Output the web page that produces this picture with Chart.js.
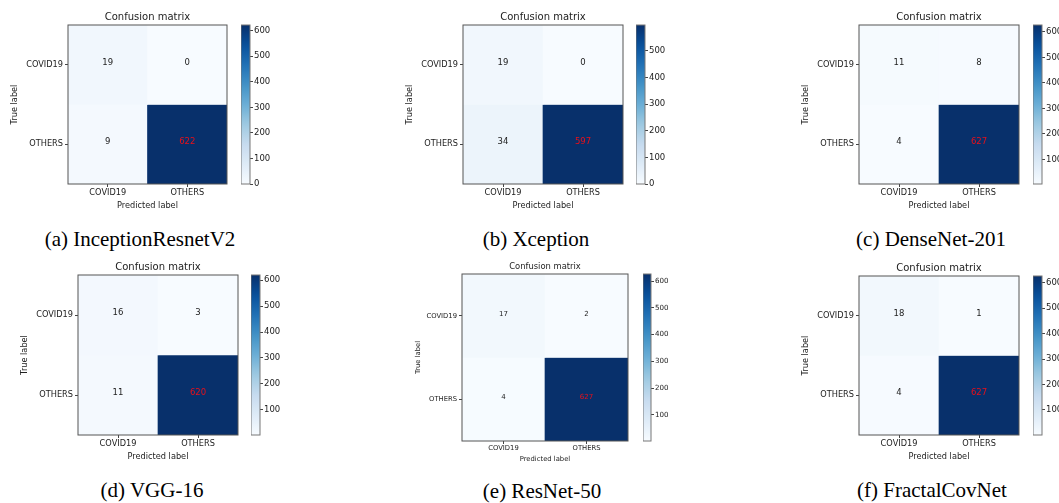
<!DOCTYPE html>
<html>
<head>
<meta charset="utf-8">
<script src="https://cdn.jsdelivr.net/npm/chart.js@4.4.0/dist/chart.umd.min.js"></script>
<style>
  html, body { margin: 0; padding: 0; background: #fff; width: 1059px; height: 503px; overflow: hidden; position: relative; }
  canvas { position: absolute; }
  .caption { position: absolute; font-family: 'Liberation Serif', 'Times New Roman', serif; font-size: 21px; color: #000; white-space: nowrap; transform: translate(-50%, -50%); }
</style>
</head>
<body>
<script>
// class names (both axes)
var classLabels = ['COVID19', 'OTHERS'];

// confusion matrices: rows = true label, cols = predicted label
var cmInceptionResnet = [[19, 0], [9, 622]];
var cmXception = [[19, 0], [34, 597]];
var cmDenseNet = [[11, 8], [4, 627]];
var cmVGG16 = [[16, 3], [11, 620]];
var cmResNet50 = [[17, 2], [4, 627]];
var cmFractalCovNet = [[18, 1], [4, 627]];

var captions = ['(a) InceptionResnetV2', '(b) Xception', '(c) DenseNet-201',
                '(d) VGG-16', '(e) ResNet-50', '(f) FractalCovNet'];
var matrices = [cmInceptionResnet, cmXception, cmDenseNet, cmVGG16, cmResNet50, cmFractalCovNet];

// colorbar tick spacing
var colorbarStep = 100;

// where each panel sits on the page (box = matrix area, bar = colorbar)
var panelLayout = [
  { box: [68, 25, 159, 159], bar: [241, 25, 8.5, 159], cap: [140, 239], fs: 8.2, ts: 10, cs: 8.5, L: 60, B: 28 },
  { box: [463, 25, 160, 159], bar: [636, 25, 8.5, 159], cap: [536, 239], fs: 8.2, ts: 10, cs: 8.5, L: 60, B: 28 },
  { box: [859, 25, 160, 159], bar: [1033, 25, 8.5, 159], cap: [931, 239], fs: 8.2, ts: 10, cs: 8.5, L: 60, B: 28 },
  { box: [78, 275, 160, 160], bar: [251, 275, 8.5, 160], cap: [152, 490], fs: 8.2, ts: 10, cs: 8.5, L: 60, B: 28 },
  { box: [462, 274, 166, 167], bar: [643, 274, 8, 167], cap: [542, 491], fs: 6.8, ts: 8.4, cs: 7, L: 50, B: 24 },
  { box: [859, 276, 160, 159], bar: [1033, 276, 8.5, 159], cap: [932, 490], fs: 8.2, ts: 10, cs: 8.5, L: 60, B: 28 }
];

var FONT = 'DejaVu Sans';
var TEXT = '#222';

// matplotlib "Blues"
var bluesStops = [[247,251,255],[222,235,247],[198,219,239],[158,202,225],[107,174,214],
                  [66,146,198],[33,113,181],[8,81,156],[8,48,107]];
function blues(t) {
  t = Math.max(0, Math.min(1, t));
  var p = t * (bluesStops.length - 1);
  var i = Math.min(Math.floor(p), bluesStops.length - 2);
  var f = p - i;
  var a = bluesStops[i], b = bluesStops[i + 1];
  return 'rgb(' + [0,1,2].map(function (k) { return Math.round(a[k] + (b[k] - a[k]) * f); }).join(',') + ')';
}

function addCanvas(x, y, w, h) {
  var c = document.createElement('canvas');
  c.width = Math.round(w); c.height = Math.round(h);
  c.style.left = Math.round(x) + 'px'; c.style.top = Math.round(y) + 'px';
  c.style.width = Math.round(w) + 'px'; c.style.height = Math.round(h) + 'px';
  document.body.appendChild(c);
  return c;
}

// frame around the plotting area
var frame = {
  id: 'frame',
  afterDraw: function (chart, args, opts) {
    var a = chart.chartArea, ctx = chart.ctx;
    ctx.save();
    ctx.strokeStyle = opts.color || '#555';
    ctx.lineWidth = 1;
    ctx.strokeRect(a.left, a.top, a.right - a.left, a.bottom - a.top);
    ctx.restore();
  }
};

// numbers inside the cells
var cellText = {
  id: 'cellText',
  afterDatasetsDraw: function (chart, args, opts) {
    if (!opts.cm) return;
    var ctx = chart.ctx;
    ctx.save();
    ctx.font = opts.size + 'px "' + FONT + '"';
    ctx.textAlign = 'center';
    ctx.textBaseline = 'middle';
    chart.data.datasets.forEach(function (ds, r) {
      chart.getDatasetMeta(r).data.forEach(function (bar, c) {
        var v = opts.cm[r][c];
        var p = bar.getProps(['x', 'y', 'base'], true);
        ctx.fillStyle = v > opts.thresh ? '#e8101a' : TEXT;
        ctx.fillText(String(v), p.x, (p.y + p.base) / 2 - 2);
      });
    });
    ctx.restore();
  }
};

function drawPanel(cm, caption, lay) {
  var flat = cm[0].concat(cm[1]);
  var vmin = Math.min.apply(null, flat), vmax = Math.max.apply(null, flat);
  var box = lay.box, fs = lay.fs;
  var T = lay.ts > 9 ? 21 : 15, R = 2;
  var tickFont = { family: FONT, size: fs, lineHeight: 1.2 };

  var cv = addCanvas(box[0] - lay.L, box[1] - T, box[2] + lay.L + R, box[3] + T + lay.B);
  new Chart(cv, {
    type: 'bar',
    data: {
      labels: classLabels,
      datasets: cm.map(function (row, r) {
        return {
          data: row.map(function () { return [r - 0.5, r + 0.5]; }),
          backgroundColor: row.map(function (v) { return blues((v - vmin) / (vmax - vmin)); }),
          borderWidth: 0,
          grouped: false,
          barPercentage: 1,
          categoryPercentage: 1
        };
      })
    },
    options: {
      responsive: false,
      animation: false,
      layout: { padding: { right: R } },
      plugins: {
        legend: { display: false },
        tooltip: { enabled: false },
        title: {
          display: true, text: 'Confusion matrix', color: TEXT, fullSize: false,
          font: { family: FONT, size: lay.ts, weight: 'normal', lineHeight: (lay.ts > 9 ? 14 : 12) + 'px' },
          padding: lay.ts > 9 ? { top: 6, bottom: 1 } : { top: 2, bottom: 1 }
        },
        frame: { color: '#555' },
        cellText: { cm: cm, thresh: vmax / 2, size: lay.cs }
      },
      scales: {
        x: {
          type: 'category',
          offset: true,
          afterFit: function (s) { s.height = lay.B; },
          grid: { offset: false, drawOnChartArea: false, tickLength: 3, color: '#444' },
          border: { display: false },
          ticks: { font: tickFont, color: TEXT, padding: fs > 8 ? 1 : 0, maxRotation: 0 },
          title: { display: true, text: 'Predicted label', color: TEXT, font: tickFont, padding: { top: 0, bottom: fs > 8 ? 1 : 2 } }
        },
        y: {
          type: 'linear',
          min: -0.5, max: 1.5, reverse: true,
          afterBuildTicks: function (s) { s.ticks = [{ value: 0 }, { value: 1 }]; },
          afterFit: function (s) { s.width = lay.L; },
          grid: { drawOnChartArea: false, tickLength: 3, color: '#444' },
          border: { display: false },
          ticks: { font: tickFont, color: TEXT, padding: 2, callback: function (v) { return classLabels[v]; } },
          title: { display: true, text: 'True label', color: TEXT, font: tickFont, padding: { top: 2, bottom: 0 } }
        }
      }
    },
    plugins: [frame, cellText]
  });

  // colorbar
  var bar = lay.bar, pad = 8, axisW = 32;
  var cb = addCanvas(bar[0], bar[1] - pad, bar[2] + axisW, bar[3] + 2 * pad);
  new Chart(cb, {
    type: 'bar',
    data: {
      labels: [''],
      datasets: [{
        data: [[vmin, vmax]],
        borderWidth: 0,
        barPercentage: 1,
        categoryPercentage: 1,
        backgroundColor: function (c) {
          var a = c.chart.chartArea;
          if (!a) return null;
          var g = c.chart.ctx.createLinearGradient(0, a.bottom, 0, a.top);
          for (var i = 0; i <= 20; i++) g.addColorStop(i / 20, blues(i / 20));
          return g;
        }
      }]
    },
    options: {
      responsive: false,
      animation: false,
      layout: { padding: { top: pad, bottom: pad } },
      plugins: { legend: { display: false }, tooltip: { enabled: false }, frame: { color: '#777' } },
      scales: {
        x: { display: false },
        y: {
          position: 'right',
          min: vmin, max: vmax,
          afterBuildTicks: function (s) {
            var t = [];
            for (var v = Math.ceil(vmin / colorbarStep) * colorbarStep; v <= vmax; v += colorbarStep) t.push({ value: v });
            s.ticks = t;
          },
          afterFit: function (s) { s.width = axisW; },
          grid: { drawOnChartArea: false, tickLength: 3, color: '#444' },
          border: { display: false },
          ticks: { font: { family: FONT, size: fs + 0.3 }, color: TEXT, padding: 1 }
        }
      }
    },
    plugins: [frame]
  });

  var cap = document.createElement('div');
  cap.className = 'caption';
  cap.textContent = caption;
  cap.style.left = lay.cap[0] + 'px';
  cap.style.top = lay.cap[1] + 'px';
  document.body.appendChild(cap);
}

for (var i = 0; i < matrices.length; i++) {
  drawPanel(matrices[i], captions[i], panelLayout[i]);
}
</script>
</body>
</html>
